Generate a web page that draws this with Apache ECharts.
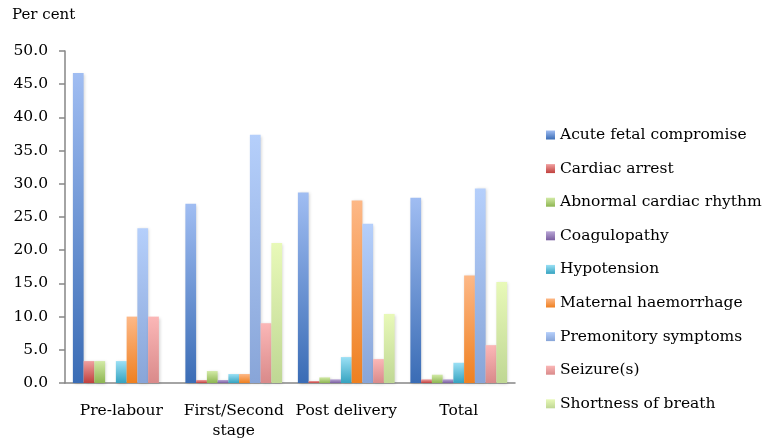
<!DOCTYPE html>
<html><head><meta charset="utf-8">
<script src="https://cdn.jsdelivr.net/npm/echarts@6/dist/echarts.min.js"></script>
<style>html,body{margin:0;padding:0;background:#fff}#c{width:773px;height:441px}</style>
</head><body><div id="c"></div>
<script>
const categories = ['Pre-labour', 'First/Second\nstage', 'Post delivery', 'Total'];
const seriesNames = ['Acute fetal compromise','Cardiac arrest','Abnormal cardiac rhythm','Coagulopathy','Hypotension','Maternal haemorrhage','Premonitory symptoms','Seizure(s)','Shortness of breath'];
const acuteFetal   = [46.7, 27.0, 28.7, 27.9];
const cardiacArrest= [3.3, 0.45, 0.3, 0.55];
const abnormalRhythm=[3.3, 1.8, 0.85, 1.25];
const coagulopathy = [0, 0.45, 0.55, 0.55];
const hypotension  = [3.3, 1.35, 3.9, 3.05];
const maternalHaem = [10.0, 1.35, 27.5, 16.2];
const premonitory  = [23.3, 37.4, 24.0, 29.3];
const seizures     = [10.0, 9.0, 3.6, 5.7];
const shortness    = [0, 21.1, 10.4, 15.2];
const yTicks = [0,5,10,15,20,25,30,35,40,45,50];
const values = [acuteFetal, cardiacArrest, abnormalRhythm, coagulopathy, hypotension, maternalHaem, premonitory, seizures, shortness];
const gradients = [
  ['#a0bdf2','#3a6cb5'],
  ['#f0a0a0','#c0403d'],
  ['#d2eaa6','#8db551'],
  ['#b9a6d6','#7a5ea0'],
  ['#9be0f5','#35a3c0'],
  ['#fdb887','#ef8020'],
  ['#b5cffb','#88a5d8'],
  ['#fbb7b7','#d98a8a'],
  ['#e8f9b8','#bfd794']
];
const chart = echarts.init(document.getElementById('c'));
const series = values.map((v,i)=>({
  name: seriesNames[i], type:'bar', data:v,
  barGap:'0%', barCategoryGap:'14%',
  itemStyle:{
    color:new echarts.graphic.LinearGradient(0,0,0,1,[{offset:0,color:gradients[i][0]},{offset:1,color:gradients[i][1]}]),
    shadowColor:'rgba(0,0,0,0.18)', shadowBlur:3, shadowOffsetX:1, shadowOffsetY:1
  }
}));
chart.setOption({
  animation:false,
  textStyle:{fontFamily:'DejaVu Serif'},
  graphic:[{type:'text', left:12, top:8, style:{text:'Per cent', font:'15px "DejaVu Serif"', fill:'#000'}}],
  grid:{left:65, right:258, top:51, bottom:58},
  legend:{
    orient:'vertical', left:541, top:120, itemWidth:9, itemHeight:9, itemGap:13.6,
    icon:'rect',
    textStyle:{fontFamily:'DejaVu Serif', fontSize:15.5, color:'#000', lineHeight:20},
    data:seriesNames
  },
  xAxis:{
    type:'category', data:categories,
    axisLine:{lineStyle:{color:'#868686', width:1.5}},
    axisTick:{length:6, lineStyle:{color:'#868686', width:1.5}},
    axisLabel:{interval:0, color:'#000', fontSize:15.5, fontFamily:'DejaVu Serif', margin:18, lineHeight:20}
  },
  yAxis:{
    type:'value', min:0, max:50, interval:5,
    splitLine:{show:false},
    axisLine:{show:true, lineStyle:{color:'#868686', width:1.5}},
    axisTick:{show:true, length:6, lineStyle:{color:'#868686', width:1.5}},
    axisLabel:{color:'#000', fontSize:15.5, fontFamily:'DejaVu Serif', margin:17, formatter:v=>v.toFixed(1)}
  },
  series: series
});
</script></body></html>
